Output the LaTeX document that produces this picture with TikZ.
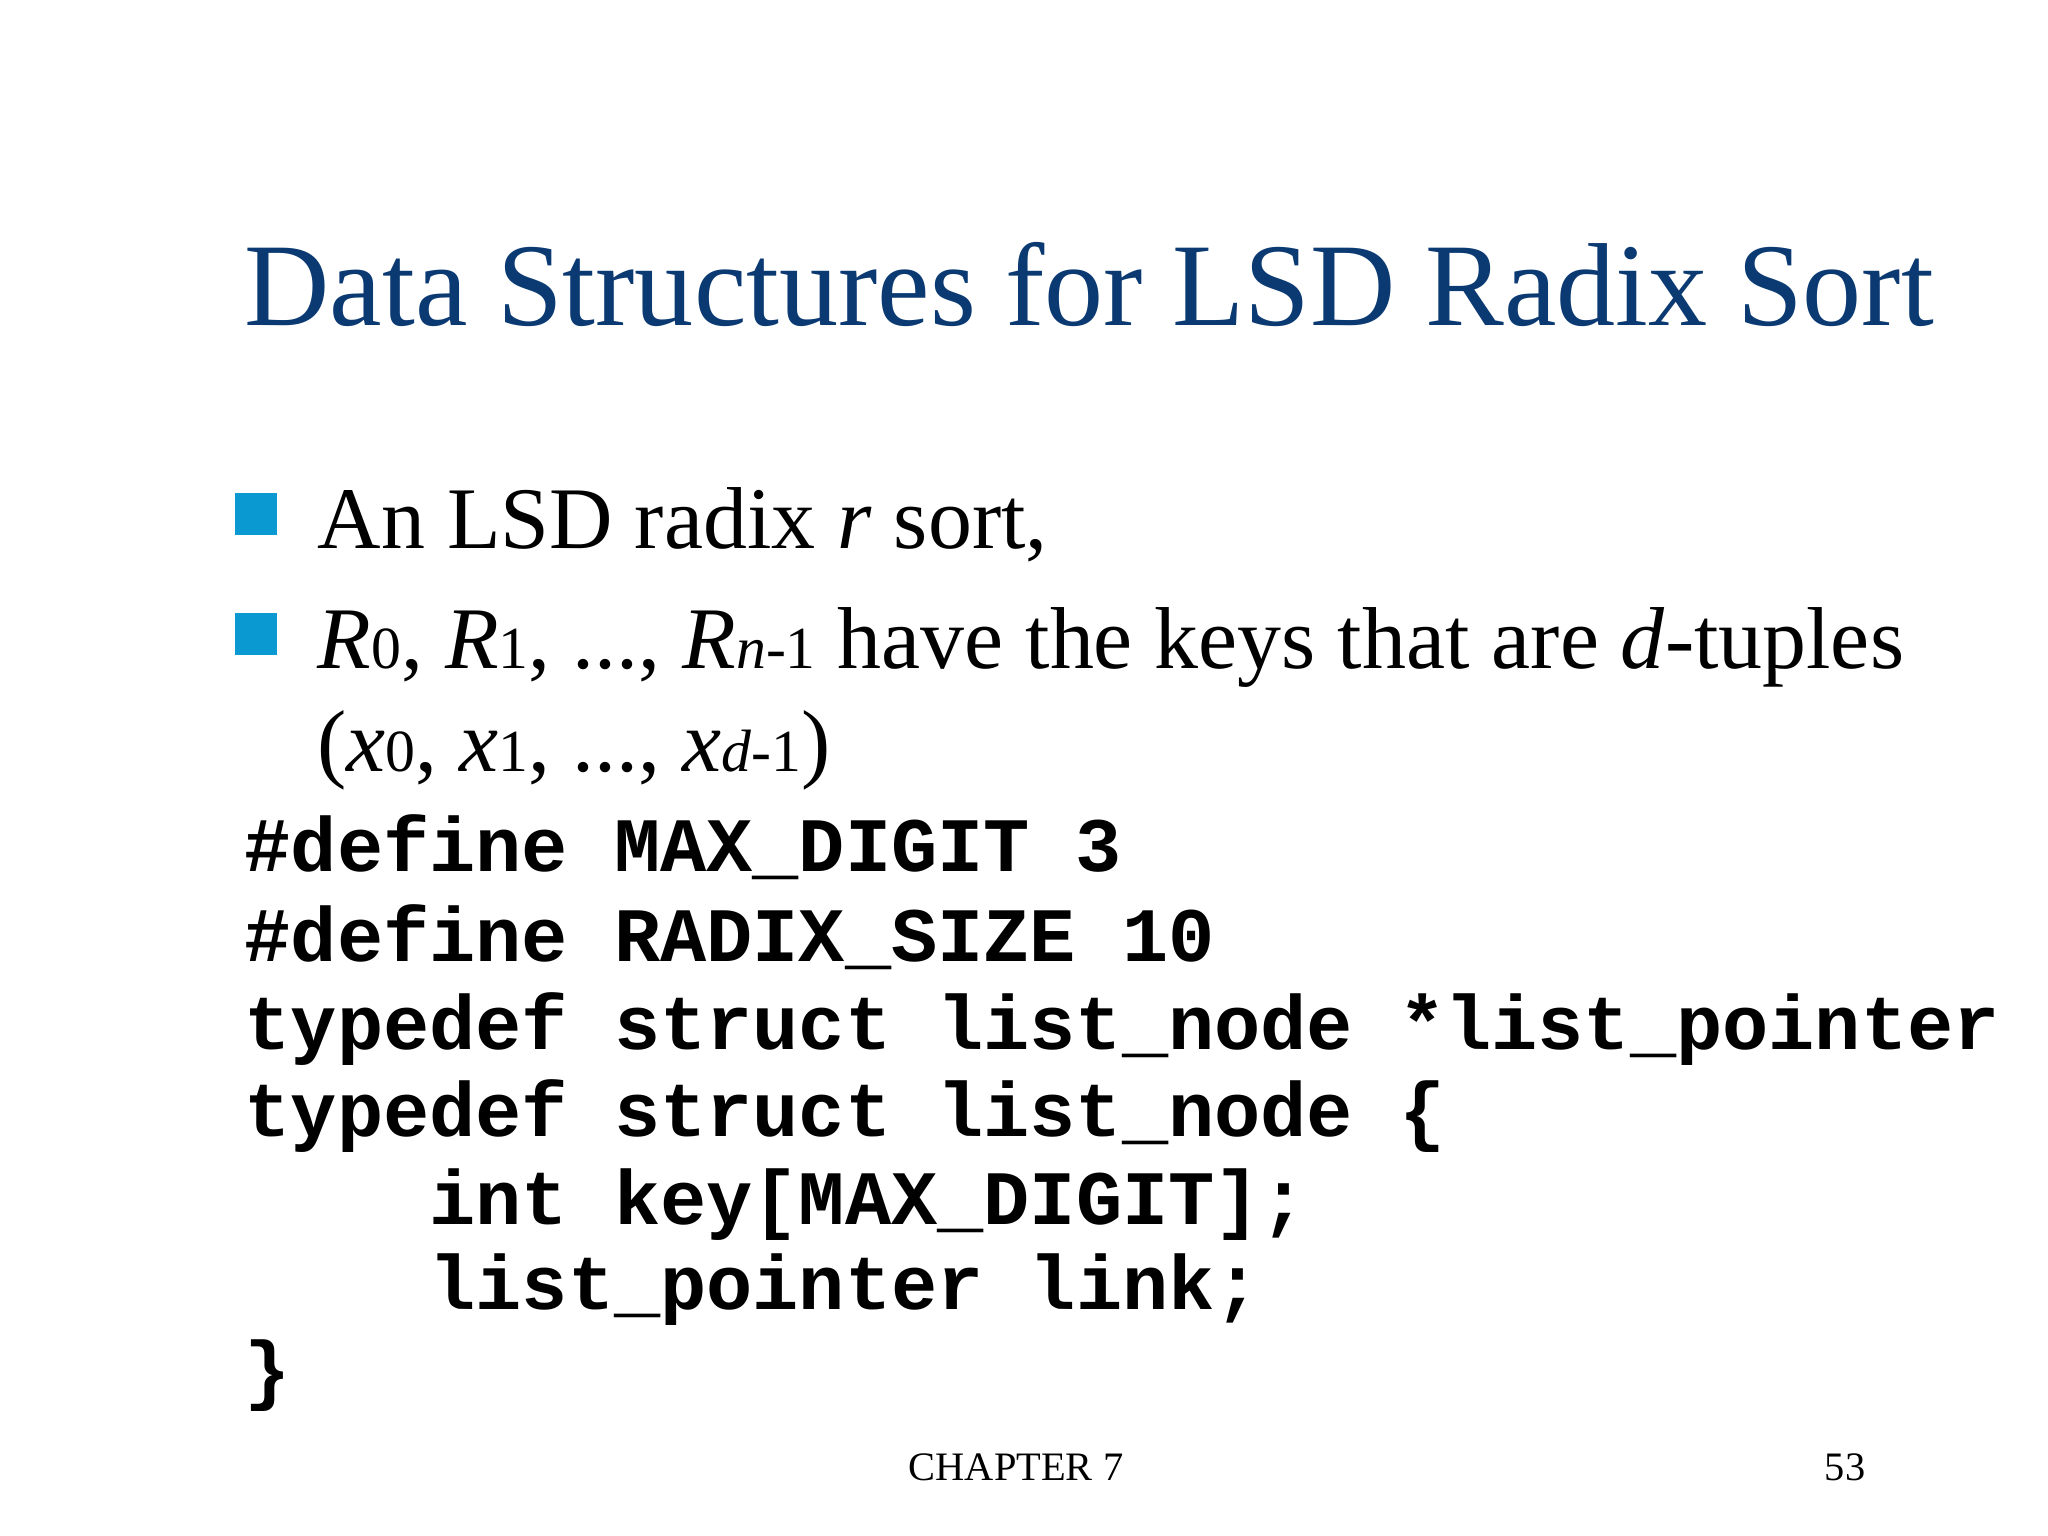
\documentclass[tikz,border=0pt]{standalone}
\usepackage{fontspec}
\setmainfont{Liberation Serif}
\setmonofont{Liberation Mono}
\definecolor{titleblue}{HTML}{0B3A72}
\definecolor{bulletblue}{HTML}{0A99D0}
\newcommand{\sm}[1]{{\fontsize{17}{20}\selectfont #1}}
\begin{document}
\begin{tikzpicture}[x=1cm,y=1cm,
  txt/.style={anchor=base west,inner sep=0pt,font=\fontsize{25}{30}\selectfont},
  code/.style={anchor=base west,inner sep=0pt,font=\ttfamily\bfseries\fontsize{21.9}{26}\selectfont},
  bul/.style={fill=bulletblue,minimum size=0.42cm,inner sep=0pt}]
\useasboundingbox (0,0) rectangle (20.48,-15.36);
\node[anchor=base west,inner sep=0pt,text=titleblue,font=\fontsize{33.6}{40}\selectfont] (title) at (2.44,-3.26) {Data Structures for LSD Radix Sort};
\node[bul] (b1) at (2.56,-5.14) {};
\node[bul] (b2) at (2.56,-6.34) {};
\node[txt] (t1) at (3.17,-5.49) {An LSD radix \textit{r} sort,};
\node[txt] (t2) at (3.17,-6.69) {\textit{R}\sm{0}, \textit{R}\sm{1}, ..., \textit{R}\sm{\textit{n}-1} have the keys that are \textit{d}-tuples};
\node[txt] (t3) at (3.17,-7.71) {(\textit{x}\sm{0}, \textit{x}\sm{1}, ..., \textit{x}\sm{\textit{d}-1})};
\node[code] (c1) at (2.44,-8.72) {\#define MAX\_DIGIT 3};
\node[code] (c2) at (2.44,-9.62) {\#define RADIX\_SIZE 10};
\node[code] (c3) at (2.44,-10.49) {typedef struct list\_node *list\_pointer};
\node[code] (c4) at (2.44,-11.36) {typedef struct list\_node \{};
\node[code] (c5) at (2.44,-12.24) {\ \ \ \ int key[MAX\_DIGIT];};
\node[code] (c6) at (2.44,-13.09) {\ \ \ \ list\_pointer link;};
\node[code] (c7) at (2.44,-13.95) {\}};
\node[anchor=base,inner sep=0pt,font=\fontsize{11.5}{14}\selectfont] (f1) at (10.16,-14.8) {CHAPTER 7};
\node[anchor=base,inner sep=0pt,font=\fontsize{11.5}{14}\selectfont] (f2) at (18.45,-14.8) {53};
\end{tikzpicture}
\end{document}
